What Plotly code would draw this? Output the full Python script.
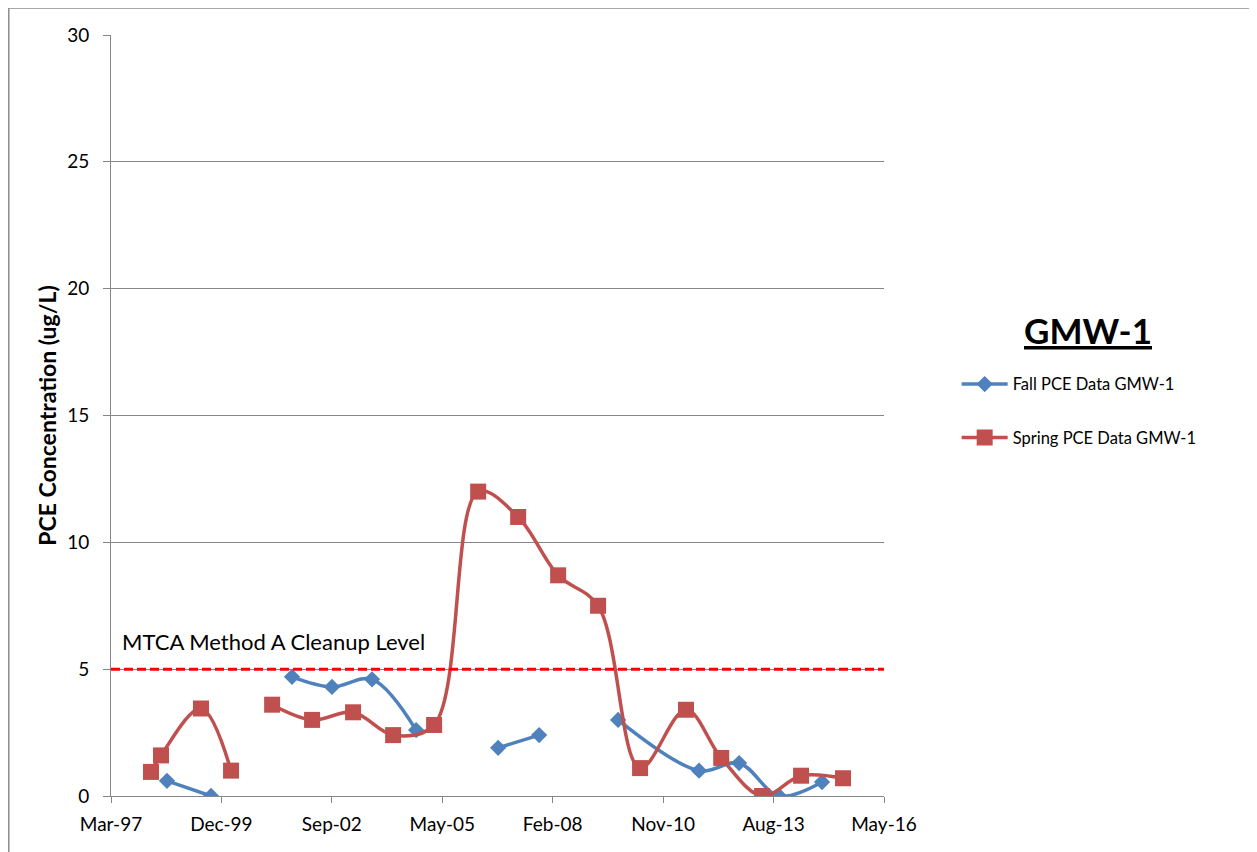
import plotly.graph_objects as go
from datetime import date, timedelta

# ---- data ----
fall_dates = ["1998-07-31", "1999-09-03", None, "2001-09-05", "2002-09-02", "2003-08-31",
              "2004-10-03", None, "2006-10-16", "2007-10-22", None, "2009-10-06",
              "2011-10-09", "2012-10-06", "2013-10-03", "2014-10-27"]
fall_values = [0.6, 0.0, None, 4.7, 4.3, 4.6, 2.6, None, 1.9, 2.4, None, 3.0,
               1.0, 1.3, 0.0, 0.55]

spring_dates = ["1998-03-08", "1998-06-07", "1999-06-04", "2000-03-02", None,
                "2001-03-09", "2002-03-06", "2003-03-12", "2004-03-09", "2005-03-15",
                "2006-04-18", "2007-04-15", "2008-04-11", "2009-04-08", "2010-04-23",
                "2011-06-13", "2012-04-27", "2013-05-02", "2014-04-20", "2015-05-05"]
spring_values = [0.95, 1.6, 3.45, 1.0, None, 3.6, 3.0, 3.3, 2.4, 2.8,
                 12.0, 11.0, 8.7, 7.5, 1.1, 3.4, 1.5, 0.0, 0.8, 0.7]

cleanup_level = 5
cleanup_label = "MTCA Method A Cleanup Level"

tick_labels = ["Mar-97", "Dec-99", "Sep-02", "May-05", "Feb-08", "Nov-10", "Aug-13", "May-16"]
axis_start = date(1997, 3, 11)
tick_step_days = 1000
tick_vals = [(axis_start + timedelta(days=tick_step_days * i)).isoformat()
             for i in range(len(tick_labels))]

FONT = "Lato"
BLUE = "#4F81BD"
RED = "#C0504D"
GRID = "#868686"

fig = go.Figure()

fig.add_trace(go.Scatter(
    x=fall_dates, y=fall_values, name="Fall PCE Data GMW-1",
    mode="lines+markers", connectgaps=False,
    line=dict(color=BLUE, width=3.5, shape="spline", smoothing=1.0),
    marker=dict(symbol="diamond", size=12.5, color=BLUE),
    legendgroup="a",
))
fig.add_trace(go.Scatter(
    x=spring_dates, y=spring_values, name="Spring PCE Data GMW-1",
    mode="lines+markers", connectgaps=False,
    line=dict(color=RED, width=3.5, shape="spline", smoothing=1.0),
    marker=dict(symbol="square", size=16, color=RED),
    legendgroup="b",
))

# cleanup level dashed line
fig.add_shape(type="line", xref="paper", yref="y", x0=0, x1=1,
              y0=cleanup_level, y1=cleanup_level,
              line=dict(color="#FF0000", width=3, dash="9px,4px"))

fig.add_annotation(xref="paper", yref="y", x=0.011, y=cleanup_level + 1.1,
                   text=cleanup_label, showarrow=False, xanchor="left", yanchor="middle",
                   font=dict(family=FONT, size=22, color="#000000"))

# legend title
fig.add_annotation(xref="paper", yref="paper", x=1.264, y=0.612,
                   text="<b><u>GMW-1</u></b>", showarrow=False,
                   xanchor="center", yanchor="middle",
                   font=dict(family=FONT, size=35, color="#000000"))

# chart area border
fig.add_shape(type="rect", xref="paper", yref="paper",
              x0=-0.1322, x1=1.7, y0=-0.2, y1=1.0355,
              line=dict(color="#8C8C8C", width=1.5), layer="below")

fig.update_layout(
    width=1249, height=844,
    margin=dict(l=103, r=373, t=27, b=56),
    paper_bgcolor="white", plot_bgcolor="white",
    font=dict(family=FONT, size=16, color="#000000"),
    showlegend=True,
    legend=dict(x=1.094, y=0.564, xanchor="left", yanchor="top",
                font=dict(family=FONT, size=16.5), tracegroupgap=29,
                itemwidth=46, bgcolor="rgba(0,0,0,0)"),
    xaxis=dict(
        type="date", range=[tick_vals[0], tick_vals[-1]],
        tickmode="array", tickvals=tick_vals, ticktext=tick_labels,
        showgrid=False, showline=True, linecolor=GRID, linewidth=1,
        ticks="outside", ticklen=6, tickcolor=GRID, ticklabelstandoff=5,
        tickfont=dict(family=FONT, size=19), zeroline=False,
    ),
    yaxis=dict(
        range=[0, 30], dtick=5, tick0=0,
        showgrid=True, gridcolor=GRID, gridwidth=1,
        showline=True, linecolor=GRID, linewidth=1,
        ticks="outside", ticklen=7, tickcolor=GRID, ticklabelstandoff=10,
        tickfont=dict(family=FONT, size=19), zeroline=False,
        title=dict(text="<b>PCE Concentration (ug/L)</b>",
                   font=dict(family=FONT, size=23), standoff=4),
    ),
)

fig.write_html("out.html")
